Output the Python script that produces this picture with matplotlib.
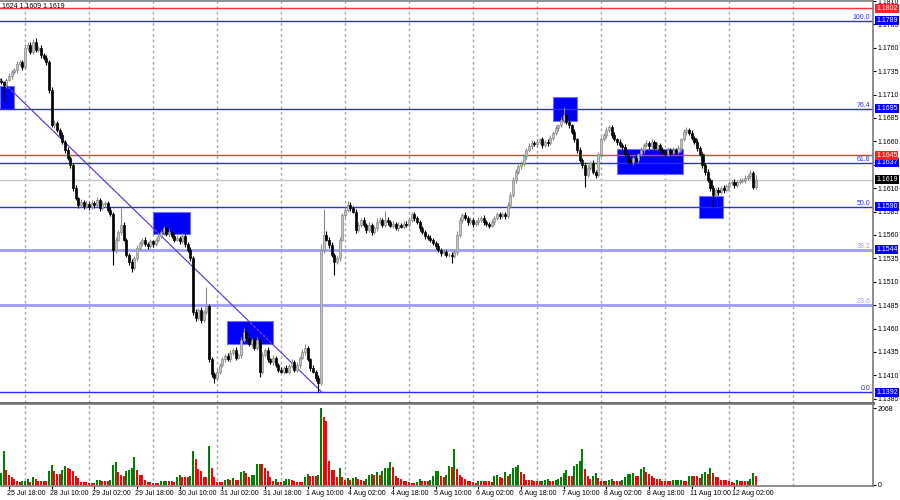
import matplotlib
matplotlib.use("Agg")
import matplotlib.pyplot as plt
import matplotlib.transforms as mtransforms
from matplotlib.patches import Rectangle
import numpy as np

# EURUSD H1, 25 Jul - 12 Aug, candle i sits at x = i
first_open = 1.1725
closes = [
    1.1723, 1.1720, 1.1726, 1.1730, 1.1734, 1.1736, 1.1743, 1.1745, 1.1739, 1.1760, 1.1763, 1.1755,
    1.1766, 1.1758, 1.1760, 1.1752, 1.1749, 1.1745, 1.1715, 1.1677, 1.1680, 1.1672, 1.1667, 1.1659,
    1.1651, 1.1642, 1.1635, 1.1610, 1.1599, 1.1592, 1.1595, 1.1591, 1.1593, 1.1590, 1.1594, 1.1592,
    1.1597, 1.1589, 1.1593, 1.1594, 1.1587, 1.1582, 1.1544, 1.1555, 1.1563, 1.1571, 1.1555, 1.1539,
    1.1531, 1.1525, 1.1535, 1.1546, 1.1551, 1.1555, 1.1550, 1.1548, 1.1553, 1.1550, 1.1555, 1.1559,
    1.1563, 1.1567, 1.1561, 1.1563, 1.1559, 1.1555, 1.1557, 1.1553, 1.1559, 1.1550, 1.1544, 1.1535,
    1.1478, 1.1471, 1.1480, 1.1469, 1.1478, 1.1484, 1.1427, 1.1411, 1.1407, 1.1414, 1.1421, 1.1427,
    1.1431, 1.1427, 1.1434, 1.1437, 1.1429, 1.1432, 1.1448, 1.1456, 1.1450, 1.1443, 1.1448, 1.1439,
    1.1448, 1.1414, 1.1432, 1.1437, 1.1427, 1.1424, 1.1429, 1.1421, 1.1416, 1.1414, 1.1418, 1.1414,
    1.1420, 1.1424, 1.1416, 1.1421, 1.1429, 1.1435, 1.1439, 1.1427, 1.1418, 1.1414, 1.1407, 1.1402,
    1.1544, 1.1560, 1.1555, 1.1549, 1.1539, 1.1531, 1.1535, 1.1555, 1.1581, 1.1587, 1.1592, 1.1589,
    1.1585, 1.1565, 1.1571, 1.1576, 1.1571, 1.1565, 1.1571, 1.1563, 1.1567, 1.1574, 1.1576, 1.1571,
    1.1576, 1.1574, 1.1570, 1.1572, 1.1567, 1.1571, 1.1569, 1.1572, 1.1571, 1.1576, 1.1582, 1.1578,
    1.1574, 1.1567, 1.1563, 1.1559, 1.1557, 1.1555, 1.1551, 1.1548, 1.1544, 1.1541, 1.1542, 1.1539,
    1.1539, 1.1537, 1.1542, 1.1560, 1.1576, 1.1581, 1.1578, 1.1574, 1.1576, 1.1572, 1.1574, 1.1576,
    1.1578, 1.1574, 1.1572, 1.1570, 1.1574, 1.1578, 1.1582, 1.1580, 1.1582, 1.1580, 1.1592, 1.1603,
    1.1619, 1.1627, 1.1634, 1.1636, 1.1644, 1.1651, 1.1655, 1.1658, 1.1657, 1.1659, 1.1662, 1.1656,
    1.1659, 1.1658, 1.1664, 1.1669, 1.1674, 1.1677, 1.1683, 1.1688, 1.1681, 1.1677, 1.1670, 1.1662,
    1.1651, 1.1640, 1.1635, 1.1624, 1.1632, 1.1637, 1.1627, 1.1624, 1.1646, 1.1662, 1.1667, 1.1672,
    1.1675, 1.1667, 1.1662, 1.1659, 1.1656, 1.1654, 1.1646, 1.1640, 1.1638, 1.1642, 1.1640, 1.1646,
    1.1651, 1.1656, 1.1658, 1.1655, 1.1659, 1.1653, 1.1656, 1.1651, 1.1649, 1.1646, 1.1651, 1.1648,
    1.1651, 1.1649, 1.1653, 1.1662, 1.1670, 1.1672, 1.1669, 1.1664, 1.1659, 1.1653, 1.1646, 1.1635,
    1.1627, 1.1619, 1.1610, 1.1603, 1.1608, 1.1606, 1.1610, 1.1608, 1.1612, 1.1615, 1.1617, 1.1613,
    1.1617, 1.1618, 1.1619, 1.1621, 1.1623, 1.1626, 1.1611, 1.1619,
]
# wick lengths in pips, above and below the body
wick_up = [
    3, 2, 2, 3, 2, 2, 3, 2, 2, 4, 3, 3, 3, 4, 2, 3, 2, 3, 2, 3, 3, 2, 2, 3,
    2, 3, 2, 2, 3, 2, 3, 2, 3, 2, 3, 2, 4, 2, 3, 2, 2, 3, 2, 3, 2, 18, 3, 2,
    2, 3, 2, 3, 3, 2, 3, 2, 3, 2, 2, 3, 2, 3, 2, 3, 2, 2, 3, 2, 3, 2, 2, 3,
    2, 3, 2, 3, 2, 20, 2, 3, 2, 3, 2, 3, 2, 3, 3, 2, 3, 2, 3, 5, 2, 3, 2, 3,
    3, 2, 3, 2, 3, 2, 3, 2, 2, 3, 2, 3, 2, 3, 2, 3, 2, 3, 4, 2, 2, 3, 2, 3,
    6, 28, 4, 3, 3, 2, 3, 3, 2, 3, 4, 3, 2, 3, 3, 2, 3, 2, 3, 2, 3, 4, 3, 2,
    10, 3, 2, 3, 2, 3, 2, 3, 3, 2, 3, 3, 2, 2, 3, 2, 2, 3, 2, 2, 3, 2, 3, 2,
    2, 3, 3, 4, 3, 2, 3, 2, 3, 2, 2, 3, 2, 3, 2, 2, 3, 2, 3, 2, 2, 3, 3, 3,
    3, 3, 2, 3, 3, 2, 3, 3, 2, 3, 2, 3, 2, 3, 3, 2, 3, 2, 3, 9, 2, 3, 2, 3,
    2, 3, 2, 3, 3, 2, 3, 2, 3, 3, 2, 3, 3, 2, 3, 2, 3, 2, 3, 2, 3, 2, 3, 2,
    3, 2, 3, 2, 3, 2, 3, 2, 3, 2, 3, 2, 3, 2, 3, 2, 3, 3, 2, 3, 2, 3, 2, 3,
    2, 3, 2, 3, 2, 3, 2, 3, 2, 3, 2, 3, 2, 3, 2, 3, 2, 3, 2, 5,
]
wick_dn = [
    2, 18, 3, 2, 3, 2, 3, 2, 3, 2, 3, 2, 2, 3, 2, 3, 2, 3, 3, 2, 3, 2, 3, 2,
    3, 2, 3, 3, 2, 3, 2, 3, 2, 3, 2, 3, 2, 3, 2, 3, 2, 2, 16, 3, 2, 3, 2, 3,
    3, 5, 2, 3, 2, 3, 2, 3, 2, 3, 2, 3, 2, 3, 2, 3, 2, 3, 2, 3, 2, 3, 2, 3,
    4, 3, 2, 3, 2, 3, 3, 3, 5, 2, 3, 2, 3, 2, 3, 2, 3, 2, 3, 2, 3, 2, 3, 2,
    2, 6, 3, 2, 3, 2, 3, 2, 3, 2, 3, 2, 3, 2, 3, 2, 3, 2, 3, 2, 3, 2, 3, 10,
    2, 3, 2, 3, 3, 14, 2, 3, 2, 3, 2, 3, 2, 3, 2, 3, 2, 3, 2, 3, 2, 3, 2, 3,
    2, 3, 2, 3, 2, 3, 2, 3, 2, 3, 2, 3, 2, 3, 2, 3, 2, 3, 2, 3, 2, 3, 2, 3,
    3, 7, 2, 3, 2, 3, 2, 3, 2, 3, 2, 3, 2, 3, 2, 3, 2, 3, 2, 3, 2, 3, 2, 3,
    2, 3, 2, 3, 2, 3, 2, 3, 2, 3, 2, 3, 2, 3, 2, 3, 2, 3, 2, 3, 2, 3, 2, 3,
    3, 2, 3, 13, 2, 3, 2, 3, 2, 3, 2, 3, 2, 3, 2, 3, 2, 3, 2, 3, 2, 3, 2, 3,
    2, 3, 2, 3, 2, 3, 2, 3, 2, 3, 2, 3, 2, 3, 2, 3, 2, 3, 2, 3, 2, 3, 2, 3,
    3, 2, 3, 13, 2, 3, 2, 3, 2, 3, 2, 3, 2, 3, 2, 3, 2, 3, 2, 2,
]
volumes = [
    317, 925, 408, 272, 227, 154, 109, 73, 109, 112, 154, 91, 209, 154, 109, 105, 100, 95, 381, 535, 381, 300, 295, 390,
    499, 462, 426, 381, 245, 181, 91, 88, 85, 63, 60, 58, 136, 138, 109, 105, 100, 136, 535, 626, 345, 272, 245, 363,
    408, 444, 753, 408, 272, 268, 136, 91, 73, 63, 45, 43, 109, 112, 118, 109, 105, 91, 209, 272, 227, 225, 209, 245,
    907, 698, 426, 372, 209, 205, 1061, 462, 209, 91, 88, 85, 136, 154, 136, 181, 136, 132, 354, 381, 317, 209, 272, 275,
    572, 575, 565, 453, 363, 227, 118, 154, 91, 88, 118, 154, 157, 136, 118, 91, 88, 85, 209, 300, 245, 242, 240, 281,
    2068, 1823, 1714, 635, 408, 405, 209, 462, 209, 136, 190, 136, 190, 209, 154, 136, 118, 154, 281, 284, 272, 336, 272, 381,
    462, 465, 626, 481, 245, 190, 154, 118, 115, 91, 63, 60, 91, 154, 109, 105, 100, 136, 245, 381, 384, 245, 209, 272,
    499, 472, 980, 417, 272, 209, 163, 118, 115, 73, 54, 118, 100, 98, 96, 94, 92, 236, 272, 209, 181, 345, 236, 300,
    454, 481, 526, 345, 290, 145, 142, 140, 118, 100, 98, 118, 145, 148, 118, 115, 145, 148, 209, 326, 399, 236, 233, 508,
    553, 644, 961, 435, 236, 163, 236, 326, 181, 100, 98, 118, 145, 163, 118, 100, 98, 145, 218, 290, 308, 310, 254, 252,
    417, 472, 345, 290, 236, 181, 163, 160, 118, 100, 98, 96, 136, 138, 140, 142, 118, 116, 236, 254, 236, 233, 181, 308,
    345, 290, 454, 326, 209, 206, 145, 127, 125, 109, 91, 54, 145, 118, 116, 114, 112, 163, 326, 236,
]

time_labels = ["25 Jul 18:00", "28 Jul 10:00", "29 Jul 02:00", "29 Jul 18:00", "30 Jul 10:00",
               "31 Jul 02:00", "31 Jul 18:00", "1 Aug 10:00", "4 Aug 02:00", "4 Aug 18:00",
               "5 Aug 10:00", "6 Aug 02:00", "6 Aug 18:00", "7 Aug 10:00", "8 Aug 02:00",
               "8 Aug 18:00", "11 Aug 10:00", "12 Aug 02:00"]
label_first, label_step = 3, 16      # candle of first label, candles between labels
grid_first, grid_step, grid_count = 9, 24, 13

fib_names = ["0.0", "23.6", "38.2", "50.0", "61.8", "76.4", "100.0"]
fib_prices = [1.1392, 1.1485, 1.1544, 1.1590, 1.1637, 1.1695, 1.1789]
fib_light = [False, True, True, False, False, False, False]
fib_boxed = [True, False, True, True, True, True, True]
fib_anchor = [(120.3, 1.1392), (-23.0, 1.1789)]
red_levels = [1.1802, 1.1645]
last_price = 1.1619
# blue zones: (first candle, last candle, low, high)
zones = [(-0.4, 4.9, 1.1695, 1.1719), (57.0, 70.9, 1.1561, 1.1584),
         (84.7, 102.0, 1.1443, 1.1468), (207.0, 216.0, 1.1682, 1.1707),
         (231.0, 255.7, 1.1625, 1.1652), (261.7, 270.7, 1.1578, 1.1602)]
header = ".1624 1.1609 1.1619"

plt.rcParams["font.family"] = ["Liberation Sans", "DejaVu Sans"]
FS = 5
BLUE = "#2b2bff"
LIGHT = "#9c9cff"
RED = "#ff3030"

n = len(closes)
idx = np.arange(n)
c = np.array(closes)
o = np.concatenate([[first_open], c[:-1]])
top = np.maximum(o, c)
bot = np.minimum(o, c)
hi = top + np.array(wick_up) * 1e-4
lo = bot - np.array(wick_dn) * 1e-4
up = c >= o

fig = plt.figure(figsize=(9, 5), dpi=100)
ax = fig.add_axes([0, 0.194, 0.97, 0.804])
axv = fig.add_axes([0, 0.028, 0.97, 0.164], sharex=ax)

for a in (ax, axv):
    for g in range(grid_count):
        a.axvline(grid_first + g * grid_step, color="#a8a8a8", lw=1,
                  ls=(0, (2, 2)), zorder=0.5)
    a.spines["left"].set_visible(False)
    for s in ("top", "right", "bottom"):
        a.spines[s].set_color("#7a7a7a")
        a.spines[s].set_linewidth(1.2)
ax.spines["bottom"].set_linewidth(2)
ax.spines["bottom"].set_color("#606060")

# zones
for x0, x1, p0, p1 in zones:
    ax.add_patch(Rectangle((x0, p0), x1 - x0, p1 - p0, facecolor="#0000ff",
                           edgecolor="#7070ff", lw=0.8, zorder=1))

# horizontal levels
for name, p, light in zip(fib_names, fib_prices, fib_light):
    col = LIGHT if light else BLUE
    ax.axhline(p, color=col, lw=2 if light else 1, zorder=2)
    ax.text(326.0, p, name, color=col, fontsize=FS, ha="right", va="bottom", zorder=2)
for p in red_levels:
    ax.axhline(p, color=RED, lw=1, zorder=2)
ax.axhline(last_price, color="#c8c8c8", lw=1, zorder=1.5)

# fibo trend line, from the 0.0 anchor up to the 100.0 anchor
xs = [pt[0] for pt in fib_anchor]
ps = [pt[1] for pt in fib_anchor]
ax.plot(xs, ps, color="#3030ff", lw=0.8, zorder=2.2)
ax.plot(xs, ps, color="#ff5050", lw=0.8, ls=(0, (1, 3)), zorder=2.3)

# candles
wick_col = np.where(up, "#8a8a8a", "#000000")
ax.vlines(idx, lo, hi, colors=wick_col, lw=0.8, zorder=3)
ax.bar(idx[up], (top - bot)[up] + 1e-6, bottom=bot[up], width=0.8,
       color="#c4c4c4", edgecolor="#8a8a8a", lw=0.5, zorder=3.2)
ax.bar(idx[~up], (top - bot)[~up] + 1e-6, bottom=bot[~up], width=0.8,
       color="#000000", edgecolor="#000000", lw=0.5, zorder=3.2)

ax.set_xlim(-0.375, 326.95)
ax.set_ylim(1.13804, 1.18100)

# right price scale
ax.yaxis.tick_right()
ax.set_yticks(np.arange(1.1385, 1.1811, 0.0025))
ax.yaxis.set_major_formatter(plt.FuncFormatter(lambda v, _: f"{v:.4f}"))
ax.tick_params(axis="y", labelsize=FS, length=2, pad=1.5, colors="#000000")
ax.tick_params(axis="x", bottom=False, labelbottom=False)

boxes = [(p, "#0000ff") for p, b in zip(fib_prices, fib_boxed) if b]
boxes += [(p, "#ff2020") for p in red_levels] + [(last_price, "#000000")]
for p, col in boxes:
    ax.annotate(f"{p:.4f}", xy=(1, p), xycoords=("axes fraction", "data"),
                xytext=(3, 0), textcoords="offset pixels", fontsize=FS,
                color="white", va="center", ha="left", annotation_clip=False,
                bbox=dict(boxstyle="square,pad=0.15", fc=col, ec="none"), zorder=10)

# volumes
vol = np.array(volumes)
vcol = ["#008000"] + ["#008000" if vol[i] > vol[i - 1] else "#ff0000" for i in range(1, n)]
axv.bar(idx, vol, width=0.75, color=vcol, lw=0, zorder=2)
axv.set_ylim(-27, 2176)
axv.yaxis.tick_right()
axv.set_yticks([0, max(volumes)])
axv.tick_params(axis="y", labelsize=FS, length=2, pad=1.5)

lab_x = [label_first + k * label_step for k in range(len(time_labels))]
axv.set_xticks(lab_x)
axv.set_xticklabels(time_labels)
axv.tick_params(axis="x", labelsize=FS, length=2, pad=1)
for t in axv.get_xticklabels():
    t.set_horizontalalignment("left")
    t.set_transform(t.get_transform() + mtransforms.ScaledTranslation(-2 / 100, 0, fig.dpi_scale_trans))

fig.text(0.0, 1 - 7 / 500, header, fontsize=FS, ha="left", va="center")

fig.savefig("out.png", dpi=100)
